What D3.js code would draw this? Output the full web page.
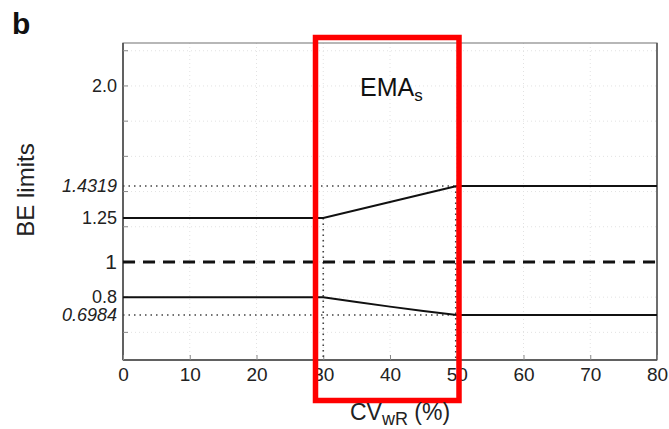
<!DOCTYPE html>
<html>
<head>
<meta charset="utf-8">
<script src="https://cdn.jsdelivr.net/npm/d3@7"></script>
<style>
  body { margin: 0; background: #fff; }
  svg { font-family: 'Liberation Sans', Arial, sans-serif; }
</style>
</head>
<body>
<div id="chart"></div>
<script>
// ----------------------------------------------------------------------------
// Data
// ----------------------------------------------------------------------------

// CVwR (%) breakpoints of the scaled limits
const cvValues    = [0, 30, 35, 40, 45, 50, 80]
const upperLimits = [1.25, 1.25, 1.2948, 1.3402, 1.3859, 1.4319, 1.4319]
const lowerLimits = [0.8, 0.8, 0.7723, 0.7462, 0.7216, 0.6984, 0.6984]

const xTicks = [0, 10, 20, 30, 40, 50, 60, 70, 80]
const yMinorTicks = [0.6, 0.8, 1.0, 1.2, 1.4, 1.6, 1.8, 2.0, 2.2]
const yLabels = [
  { v: 2.0,    text: '2.0',    italic: false },
  { v: 1.4319, text: '1.4319', italic: true  },
  { v: 1.25,   text: '1.25',   italic: false },
  { v: 1,      text: '1',      italic: false },
  { v: 0.8,    text: '0.8',    italic: false },
  { v: 0.6984, text: '0.6984', italic: true  }
]

// ----------------------------------------------------------------------------
// Layout
// ----------------------------------------------------------------------------

const width = 669, height = 429
const pos = { left: 123, right: 657, top: 43, bottom: 360 }

const svg = d3.select('#chart').append('svg')
  .attr('width', width)
  .attr('height', height)

const x = d3.scaleLinear().domain([0, 80]).range([pos.left, pos.right])
const y = d3.scaleLinear().domain([0.443, 2.244]).range([pos.bottom, pos.top])

// Grid (faint dotted)
svg.append('g')
  .selectAll('line')
  .data(xTicks.slice(1, -1))
  .join('line')
  .attr('x1', d => x(d)).attr('x2', d => x(d))
  .attr('y1', pos.top).attr('y2', pos.bottom)
  .attr('stroke', '#e2e2e2').attr('stroke-dasharray', '1,3')

svg.append('g')
  .selectAll('line')
  .data(yMinorTicks)
  .join('line')
  .attr('x1', pos.left).attr('x2', pos.right)
  .attr('y1', d => y(d)).attr('y2', d => y(d))
  .attr('stroke', '#e2e2e2').attr('stroke-dasharray', '1,3')

// Frame
svg.append('rect')
  .attr('x', pos.left).attr('y', pos.top)
  .attr('width', pos.right - pos.left).attr('height', pos.bottom - pos.top)
  .attr('fill', 'none').attr('stroke', '#888').attr('stroke-width', 1.2)

svg.append('line')
  .attr('x1', pos.left).attr('x2', pos.left)
  .attr('y1', pos.top).attr('y2', pos.bottom)
  .attr('stroke', '#444').attr('stroke-width', 1.5)
svg.append('line')
  .attr('x1', pos.left).attr('x2', pos.right)
  .attr('y1', pos.bottom).attr('y2', pos.bottom)
  .attr('stroke', '#444').attr('stroke-width', 1.5)
svg.append('line')
  .attr('x1', pos.right).attr('x2', pos.right)
  .attr('y1', pos.top).attr('y2', pos.bottom)
  .attr('stroke', '#555').attr('stroke-width', 1.5)

// X axis: inward ticks + labels
const xAxis = svg.append('g')
  .attr('transform', `translate(0,${pos.bottom})`)
  .call(d3.axisBottom(x).tickValues(xTicks).tickSizeInner(-5).tickSizeOuter(0).tickPadding(7.5))
xAxis.select('.domain').remove()
xAxis.selectAll('line').attr('stroke', '#888')
xAxis.selectAll('text')
  .attr('font-size', 19).attr('fill', '#222')
  .attr('font-family', "'Liberation Sans', Arial, sans-serif")

// Y axis: inward minor ticks
svg.append('g')
  .selectAll('line')
  .data(yMinorTicks)
  .join('line')
  .attr('x1', pos.left).attr('x2', pos.left + 5)
  .attr('y1', d => y(d)).attr('y2', d => y(d))
  .attr('stroke', '#888')

// Y labels
svg.append('g')
  .selectAll('text')
  .data(yLabels)
  .join('text')
  .attr('x', pos.left - 6)
  .attr('y', d => y(d.v))
  .attr('dy', '0.35em')
  .attr('text-anchor', 'end')
  .attr('font-size', d => d.text === '1' ? 21 : 18)
  .attr('font-style', d => d.italic ? 'italic' : 'normal')
  .attr('fill', '#222')
  .text(d => d.text)

// Dotted reference lines
const dotted = svg.append('g')
  .attr('stroke', '#444').attr('stroke-width', 1.6)
  .attr('stroke-dasharray', '1.5,4').attr('fill', 'none')

dotted.append('line')
  .attr('x1', x(0)).attr('x2', x(50))
  .attr('y1', y(upperLimits[5])).attr('y2', y(upperLimits[5]))
dotted.append('line')
  .attr('x1', x(0)).attr('x2', x(50))
  .attr('y1', y(lowerLimits[5])).attr('y2', y(lowerLimits[5]))
dotted.append('line')
  .attr('x1', x(30)).attr('x2', x(30))
  .attr('y1', y(upperLimits[1])).attr('y2', pos.bottom)
dotted.append('line')
  .attr('x1', x(50) - 1).attr('x2', x(50) - 1)
  .attr('y1', y(upperLimits[5])).attr('y2', pos.bottom)

// Limit lines
const line = d3.line()
  .x((d, i) => x(cvValues[i]))
  .y(d => y(d))

svg.append('path')
  .attr('d', line(upperLimits))
  .attr('fill', 'none').attr('stroke', '#111').attr('stroke-width', 2)
svg.append('path')
  .attr('d', line(lowerLimits))
  .attr('fill', 'none').attr('stroke', '#111').attr('stroke-width', 2)

svg.append('line')
  .attr('x1', x(0)).attr('x2', x(80))
  .attr('y1', y(1)).attr('y2', y(1))
  .attr('stroke', '#111').attr('stroke-width', 3)
  .attr('stroke-dasharray', '12,8')

// Red region box
svg.append('rect')
  .attr('x', 315.5).attr('y', 37.5)
  .attr('width', 143.5).attr('height', 363)
  .attr('fill', 'none').attr('stroke', '#f00').attr('stroke-width', 5.5)

// EMAs label
const ema = svg.append('text')
  .attr('x', 360).attr('y', 96)
  .attr('font-size', 25).attr('fill', '#111')
ema.append('tspan').text('EMA')
ema.append('tspan').attr('font-size', 17).attr('dy', 5).text('s')

// Axis titles
const xt = svg.append('text')
  .attr('x', 350).attr('y', 420)
  .attr('font-size', 23).attr('fill', '#222')
xt.append('tspan').text('CV')
xt.append('tspan').attr('font-size', 18).attr('dy', 5).text('wR')
xt.append('tspan').attr('dy', -5).text(' (%)')

svg.append('text')
  .attr('transform', 'translate(34,190) rotate(-90)')
  .attr('text-anchor', 'middle')
  .attr('font-size', 24).attr('fill', '#222')
  .text('BE limits')

// Panel letter
svg.append('text')
  .attr('x', 12).attr('y', 34)
  .attr('font-size', 30).attr('font-weight', 'bold').attr('fill', '#111')
  .text('b')
</script>
</body>
</html>
